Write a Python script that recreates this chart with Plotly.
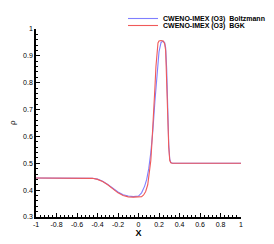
import plotly.graph_objects as go

# Boltzmann (blue)
x_boltz = [-1.0, -0.5, -0.45, -0.4, -0.35, -0.3, -0.25, -0.2, -0.15, -0.1, -0.05, 0.0, 0.03, 0.06,
           0.08, 0.1, 0.12, 0.14, 0.16, 0.18, 0.2, 0.22, 0.24, 0.255, 0.265, 0.275, 0.285, 0.295,
           0.305, 0.315, 0.33, 1.0]
rho_boltz = [0.445, 0.445, 0.444, 0.441, 0.433, 0.421, 0.407, 0.393, 0.383, 0.378, 0.376, 0.378,
             0.39, 0.415, 0.44, 0.48, 0.54, 0.62, 0.73, 0.84, 0.915, 0.95, 0.955, 0.95, 0.93, 0.85,
             0.70, 0.57, 0.515, 0.503, 0.5, 0.5]

# BGK (red)
x_bgk = [-1.0, -0.5, -0.45, -0.4, -0.35, -0.3, -0.25, -0.2, -0.15, -0.1, -0.05, 0.0, 0.03, 0.05,
         0.07, 0.09, 0.11, 0.12, 0.13, 0.14, 0.15, 0.16, 0.17, 0.18, 0.19, 0.2, 0.22, 0.24, 0.255,
         0.265, 0.275, 0.285, 0.295, 0.305, 0.315, 0.33, 1.0]
rho_bgk = [0.445, 0.445, 0.444, 0.440, 0.432, 0.420, 0.405, 0.390, 0.380, 0.375, 0.374, 0.374,
           0.376, 0.382, 0.395, 0.42, 0.47, 0.51, 0.57, 0.63, 0.70, 0.78, 0.86, 0.92, 0.948, 0.955,
           0.957, 0.955, 0.945, 0.92, 0.83, 0.68, 0.56, 0.51, 0.502, 0.5, 0.5]

x_ticks = [-1, -0.8, -0.6, -0.4, -0.2, 0, 0.2, 0.4, 0.6, 0.8, 1]
x_ticklabels = ["-1", "-0.8", "-0.6", "-0.4", "-0.2", "0", "0.2", "0.4", "0.6", "0.8", "1"]
y_ticks = [0.3, 0.4, 0.5, 0.6, 0.7, 0.8, 0.9, 1.0]
y_ticklabels = ["0.3", "0.4", "0.5", "0.6", "0.7", "0.8", "0.9", "1"]
y_title = "ρ"

FONT = "Liberation Sans, Arial, sans-serif"

fig = go.Figure()
fig.add_trace(go.Scatter(x=x_boltz, y=rho_boltz, mode="lines",
                         name="CWENO-IMEX (O3)  Boltzmann",
                         line=dict(color="#7f7fff", width=1.1), legend="legend"))
fig.add_trace(go.Scatter(x=x_bgk, y=rho_bgk, mode="lines",
                         name="CWENO-IMEX (O3)  BGK",
                         line=dict(color="#f05a5a", width=1.1), legend="legend2"))

leg_common = dict(font=dict(family=FONT, size=7, color="#000", weight="bold"),
                  bgcolor="rgba(0,0,0,0)", xref="container", yref="container",
                  xanchor="left", yanchor="middle", itemwidth=30, tracegroupgap=0)
fig.update_layout(
    width=274, height=244,
    margin=dict(l=36, r=33, t=29, b=27, autoexpand=False),
    paper_bgcolor="white", plot_bgcolor="white",
    showlegend=True,
    legend=dict(x=0.449, y=1 - 18.5 / 244, **leg_common),
    legend2=dict(x=0.449, y=1 - 25.5 / 244, **leg_common),
    xaxis=dict(range=[-1, 1], tickvals=x_ticks, ticktext=x_ticklabels, automargin=False,
               ticks="inside", ticklen=4, tickwidth=1.2, tickcolor="#000",
               minor=dict(ticks="inside", ticklen=2, tickwidth=1, tickcolor="#000", dtick=0.04),
               showgrid=False, zeroline=False, showline=True, linecolor="#000", linewidth=1.5,
               tickfont=dict(family=FONT, size=7, color="#000"),
               title=dict(text="X", font=dict(family=FONT, size=9, color="#000", weight="bold"),
                          standoff=0)),
    yaxis=dict(range=[0.3, 1], tickvals=y_ticks, ticktext=y_ticklabels, automargin=False,
               ticks="inside", ticklen=4, tickwidth=1.2, tickcolor="#000",
               minor=dict(ticks="inside", ticklen=2, tickwidth=1, tickcolor="#000", dtick=0.02),
               showgrid=False, zeroline=False, showline=True, linecolor="#000", linewidth=1.5,
               tickfont=dict(family=FONT, size=7, color="#000")),
    annotations=[dict(text=y_title, xref="paper", yref="paper", x=-0.117, y=0.5,
                      xanchor="center", yanchor="middle", textangle=-90, showarrow=False,
                      font=dict(family=FONT, size=8, color="#000"))],
)

fig.write_html("out.html", config={"displayModeBar": False},
               post_script="document.body.style.margin='0';")
